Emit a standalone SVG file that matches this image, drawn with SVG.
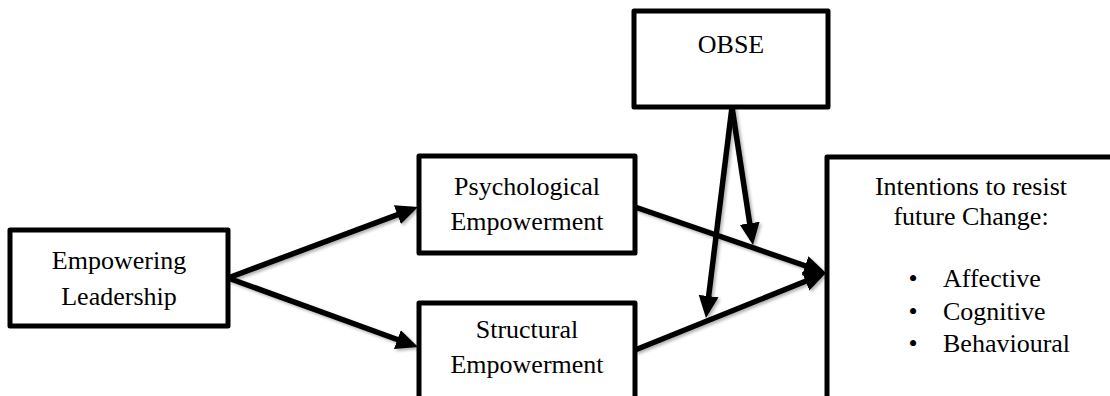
<svg xmlns="http://www.w3.org/2000/svg" width="1110" height="396" viewBox="0 0 1110 396">
<style>
.box{fill:#fff;stroke:#000;stroke-width:5;stroke-linejoin:round}
.t{font-family:"Liberation Serif","Times New Roman",serif;font-size:26px;fill:#000}
.c{text-anchor:middle}
.ln{stroke:#000;stroke-width:5.5;fill:none;marker-end:url(#ah)}
</style>
<defs>
<marker id="ah" markerUnits="userSpaceOnUse" markerWidth="24" markerHeight="22" refX="16" refY="10" orient="auto">
<path d="M0,0 L22,10 L0,20 Z" fill="#000"/>
</marker>
<filter id="sh" x="-10%" y="-10%" width="120%" height="120%">
<feDropShadow dx="2" dy="2" stdDeviation="1.5" flood-color="#000" flood-opacity="0.3"/>
</filter>
</defs>
<g id="n-empowering">
<rect class="box" x="10" y="230" width="218" height="96"/>
<text class="t c" x="119" y="269">Empowering</text>
<text class="t c" x="119" y="305">Leadership</text>
</g>
<g id="n-psych">
<rect class="box" x="419" y="156" width="216" height="97"/>
<text class="t c" x="527" y="195">Psychological</text>
<text class="t c" x="527" y="230">Empowerment</text>
</g>
<g id="n-struct">
<rect class="box" x="419" y="303" width="216" height="100"/>
<text class="t c" x="527" y="338">Structural</text>
<text class="t c" x="527" y="373">Empowerment</text>
</g>
<g id="n-obse">
<rect class="box" x="634" y="11" width="194" height="96"/>
<text class="t c" x="731" y="53">OBSE</text>
</g>
<g id="n-intentions">
<rect class="box" x="827" y="157" width="300" height="260"/>
<text class="t c" x="971" y="195">Intentions to resist</text>
<text class="t c" x="971" y="225">future Change:</text>
<text class="t c" x="913" y="287">•</text>
<text class="t" x="943" y="287">Affective</text>
<text class="t c" x="913" y="320">•</text>
<text class="t" x="943" y="320">Cognitive</text>
<text class="t c" x="913" y="352">•</text>
<text class="t" x="943" y="352">Behavioural</text>
</g>
<g id="connectors" filter="url(#sh)">
<line class="ln" x1="228" y1="278" x2="412.4" y2="209.1"/>
<line class="ln" x1="228" y1="278" x2="412.4" y2="345"/>
<line class="ln" x1="635" y1="207" x2="820.3" y2="271"/>
<line class="ln" x1="635" y1="350" x2="820.4" y2="275.2"/>
<line class="ln" x1="732" y1="107" x2="752.1" y2="239.1"/>
<line class="ln" x1="732" y1="107" x2="706.7" y2="312"/>
</g>
</svg>
